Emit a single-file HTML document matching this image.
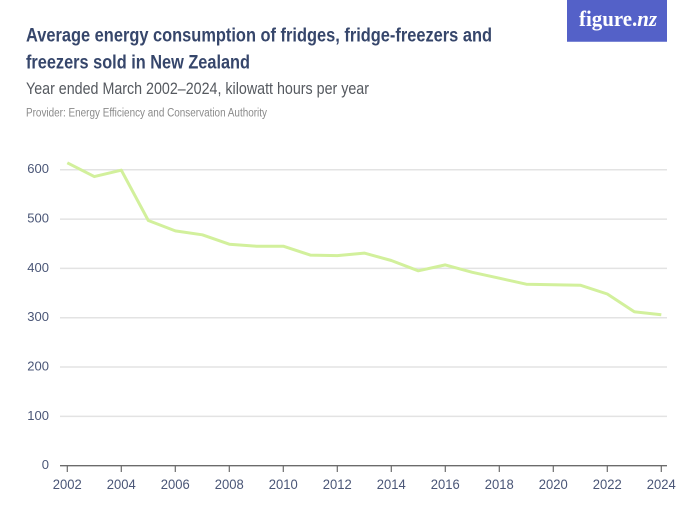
<!DOCTYPE html>
<html>
<head>
<meta charset="utf-8">
<style>
html,body{margin:0;padding:0;background:#fff;}
svg{display:block;}
</style>
</head>
<body>
<svg width="700" height="525" viewBox="0 0 700 525" xmlns="http://www.w3.org/2000/svg">
  <rect x="0" y="0" width="700" height="525" fill="#ffffff"/>
  <!-- logo -->
  <rect x="567" y="0" width="100" height="42" fill="#5461c8"/>
  <rect x="567" y="41" width="100" height="1" fill="#7d88d6"/>
  <text x="579" y="26" font-family="Liberation Serif, serif" font-size="22" font-weight="bold" fill="#ffffff" textLength="78" lengthAdjust="spacingAndGlyphs">figure.<tspan font-style="italic">nz</tspan></text>

  <!-- titles -->
  <g font-family="Liberation Sans, sans-serif">
    <text x="26" y="41.7" font-size="19" font-weight="bold" fill="#36466b" textLength="466" lengthAdjust="spacingAndGlyphs">Average energy consumption of fridges, fridge-freezers and</text>
    <text x="26" y="68.3" font-size="19" font-weight="bold" fill="#36466b" textLength="224" lengthAdjust="spacingAndGlyphs">freezers sold in New Zealand</text>
    <text x="26" y="94" font-size="17" fill="#55595f" textLength="343" lengthAdjust="spacingAndGlyphs">Year ended March 2002–2024, kilowatt hours per year</text>
    <text x="26" y="116.7" font-size="11.5" fill="#8a8a8a" textLength="241" lengthAdjust="spacingAndGlyphs">Provider: Energy Efficiency and Conservation Authority</text>
  </g>

  <!-- gridlines -->
  <g stroke="#e3e3e3" stroke-width="1.5">
    <line x1="60" x2="667" y1="169.7" y2="169.7"/>
    <line x1="60" x2="667" y1="219.1" y2="219.1"/>
    <line x1="60" x2="667" y1="268.4" y2="268.4"/>
    <line x1="60" x2="667" y1="317.7" y2="317.7"/>
    <line x1="60" x2="667" y1="367.0" y2="367.0"/>
    <line x1="60" x2="667" y1="416.4" y2="416.4"/>
  </g>
  <!-- axis -->
  <line x1="60" x2="667" y1="465.7" y2="465.7" stroke="#6b6b6b" stroke-width="1.3"/>
  <g stroke="#6b6b6b" stroke-width="1.2">
    <line x1="67.3" x2="67.3" y1="466" y2="472"/>
    <line x1="121.3" x2="121.3" y1="466" y2="472"/>
    <line x1="175.3" x2="175.3" y1="466" y2="472"/>
    <line x1="229.3" x2="229.3" y1="466" y2="472"/>
    <line x1="283.3" x2="283.3" y1="466" y2="472"/>
    <line x1="337.3" x2="337.3" y1="466" y2="472"/>
    <line x1="391.3" x2="391.3" y1="466" y2="472"/>
    <line x1="445.3" x2="445.3" y1="466" y2="472"/>
    <line x1="499.3" x2="499.3" y1="466" y2="472"/>
    <line x1="553.3" x2="553.3" y1="466" y2="472"/>
    <line x1="607.3" x2="607.3" y1="466" y2="472"/>
    <line x1="661.3" x2="661.3" y1="466" y2="472"/>
  </g>

  <!-- y labels -->
  <g font-family="Liberation Sans, sans-serif" font-size="13" fill="#4a5677" text-anchor="end">
    <text x="49" y="173.2">600</text>
    <text x="49" y="222.6">500</text>
    <text x="49" y="271.9">400</text>
    <text x="49" y="321.2">300</text>
    <text x="49" y="370.5">200</text>
    <text x="49" y="419.9">100</text>
    <text x="49" y="469.2">0</text>
  </g>

  <!-- x labels -->
  <g font-family="Liberation Sans, sans-serif" font-size="14" fill="#4a5677">
    <text x="52.8" y="489" textLength="29" lengthAdjust="spacingAndGlyphs">2002</text>
    <text x="106.8" y="489" textLength="29" lengthAdjust="spacingAndGlyphs">2004</text>
    <text x="160.8" y="489" textLength="29" lengthAdjust="spacingAndGlyphs">2006</text>
    <text x="214.8" y="489" textLength="29" lengthAdjust="spacingAndGlyphs">2008</text>
    <text x="268.8" y="489" textLength="29" lengthAdjust="spacingAndGlyphs">2010</text>
    <text x="322.8" y="489" textLength="29" lengthAdjust="spacingAndGlyphs">2012</text>
    <text x="376.8" y="489" textLength="29" lengthAdjust="spacingAndGlyphs">2014</text>
    <text x="430.8" y="489" textLength="29" lengthAdjust="spacingAndGlyphs">2016</text>
    <text x="484.8" y="489" textLength="29" lengthAdjust="spacingAndGlyphs">2018</text>
    <text x="538.8" y="489" textLength="29" lengthAdjust="spacingAndGlyphs">2020</text>
    <text x="592.8" y="489" textLength="29" lengthAdjust="spacingAndGlyphs">2022</text>
    <text x="646.8" y="489" textLength="29" lengthAdjust="spacingAndGlyphs">2024</text>
  </g>

  <!-- series -->
  <polyline fill="none" stroke="#d2f09c" stroke-width="3" stroke-linejoin="round" stroke-linecap="butt"
    points="67.3,162.8 94.3,176.6 121.3,170.2 148.3,220.5 175.3,230.9 202.3,234.8 229.3,244.2 256.3,246.2 283.3,246.2 310.3,255.1 337.3,255.6 364.3,253.1 391.3,260.5 418.3,270.8 445.3,264.9 472.3,272.3 499.3,278.2 526.3,284.2 553.3,284.7 580.3,285.2 607.3,294.0 634.3,311.8 661.3,314.8"/>
</svg>
</body>
</html>
